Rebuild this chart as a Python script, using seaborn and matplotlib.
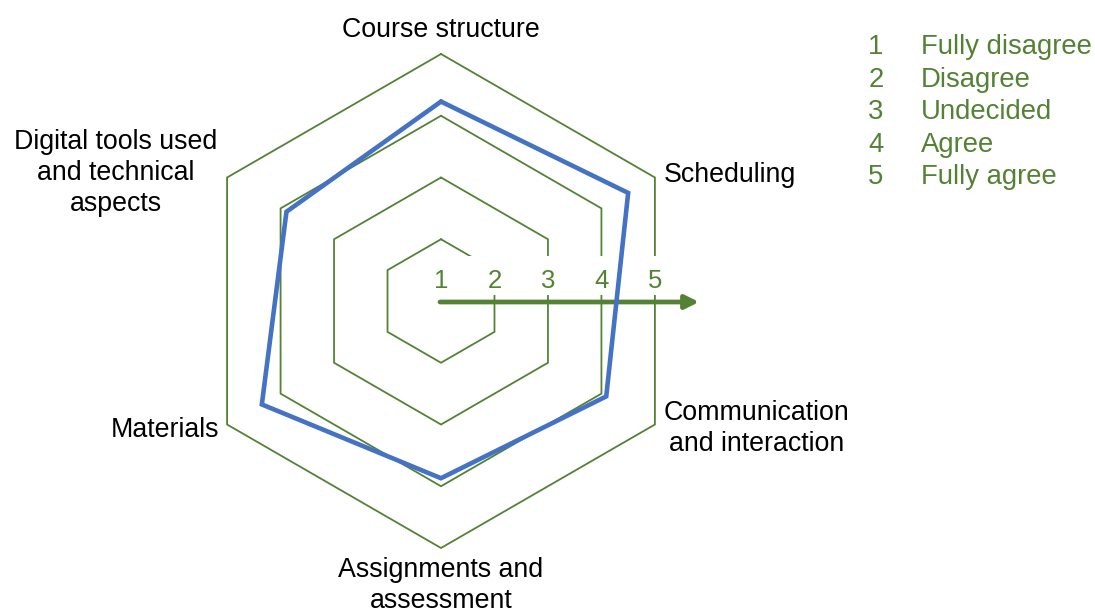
import numpy as np
import pandas as pd
import matplotlib
matplotlib.use("Agg")
import matplotlib.pyplot as plt
import seaborn as sns

# survey dimensions, clockwise from the top
categories = ["Course structure", "Scheduling", "Communication\nand interaction",
              "Assignments and\nassessment", "Materials",
              "Digital tools used\nand technical\naspects"]
scores = [4.23, 4.50, 4.09, 3.87, 4.35, 3.89]
levels = [1, 2, 3, 4, 5]
level_names = ["Fully disagree", "Disagree", "Undecided", "Agree", "Fully agree"]

GREEN = "#548235"
BLUE = "#4472C4"

sns.set_theme(style="white")
plt.rcParams['font.family'] = ['Liberation Sans', 'DejaVu Sans']

# one unit of radius = one step on the scale, level 1 sits at the centre
S = 61.75          # pixels per scale step
CX, CY = 441, 301  # centre in pixels
W, H = 1095, 613

def P(xp, yp):
    return (xp - CX) / S, (CY - yp) / S

angles = np.deg2rad([90, 30, -30, -90, -150, 150])

# hexagon grid
rows = []
for lv in levels[1:]:
    r = lv - 1
    for a in list(angles) + [angles[0]]:
        rows.append({"level": lv, "x": r * np.cos(a), "y": r * np.sin(a)})
grid = pd.DataFrame(rows)

r_sc = np.array(scores) - 1
poly = pd.DataFrame({"x": list(r_sc * np.cos(angles)) + [r_sc[0] * np.cos(angles[0])],
                     "y": list(r_sc * np.sin(angles)) + [r_sc[0] * np.sin(angles[0])]})

fig = plt.figure(figsize=(W / 100, H / 100), dpi=100)
ax = fig.add_axes([0, 0, 1, 1])

sns.lineplot(data=grid, x="x", y="y", units="level", estimator=None, sort=False,
             color=GREEN, lw=1.3, ax=ax, zorder=1)
for ln in ax.lines:
    ln.set_solid_joinstyle('miter')

# white strip behind the scale numbers
x0, y0 = P(428, 295)
x1, y1 = P(668, 256)
ax.add_patch(plt.Rectangle((x0, y0), x1 - x0, y1 - y0, facecolor="white",
                           edgecolor="none", zorder=2))

# axis arrow with scale numbers
ax.annotate("", xy=P(699, 302), xytext=P(440, 302),
            arrowprops=dict(arrowstyle="-|>,head_length=0.9,head_width=0.45",
                            color=GREEN, lw=3.4, shrinkA=0, shrinkB=0,
                            mutation_scale=9), zorder=3)
for lv in levels:
    xv = (lv - 1) * np.cos(np.deg2rad(30))
    ax.text(xv, P(0, 287.5)[1], str(lv), color=GREEN, fontsize=18.5,
            ha="center", va="baseline", zorder=4)

sns.lineplot(data=poly, x="x", y="y", sort=False, estimator=None,
             color=BLUE, lw=3.3, ax=ax, zorder=5)
ax.lines[-1].set_solid_joinstyle('miter')

ax.set_xlim(-CX / S, (W - CX) / S)
ax.set_ylim((CY - H) / S, CY / S)
ax.axis('off')

# category labels (y = baseline of the last line)
fs = 19.3
lab_pos = [((441, 37), "center"), ((664, 182), "left"), ((664, 451), "left"),
           ((441, 608), "center"), ((219, 437), "right"), ((116, 211), "center")]
for name, ((xp, yp), ha) in zip(categories, lab_pos):
    ax.text(*P(xp, yp), name, fontsize=fs, ha=ha, va="baseline",
            multialignment="center", linespacing=1.24, color="black")

# scale legend
for i, (lv, nm) in enumerate(zip(levels, level_names)):
    yb = 54.3 + 32.5 * i
    ax.text(*P(876, yb), str(lv), fontsize=19.8, color=GREEN, ha="center", va="baseline")
    ax.text(*P(921, yb), nm, fontsize=19.8, color=GREEN, ha="left", va="baseline")

fig.savefig("out.png", dpi=100)
